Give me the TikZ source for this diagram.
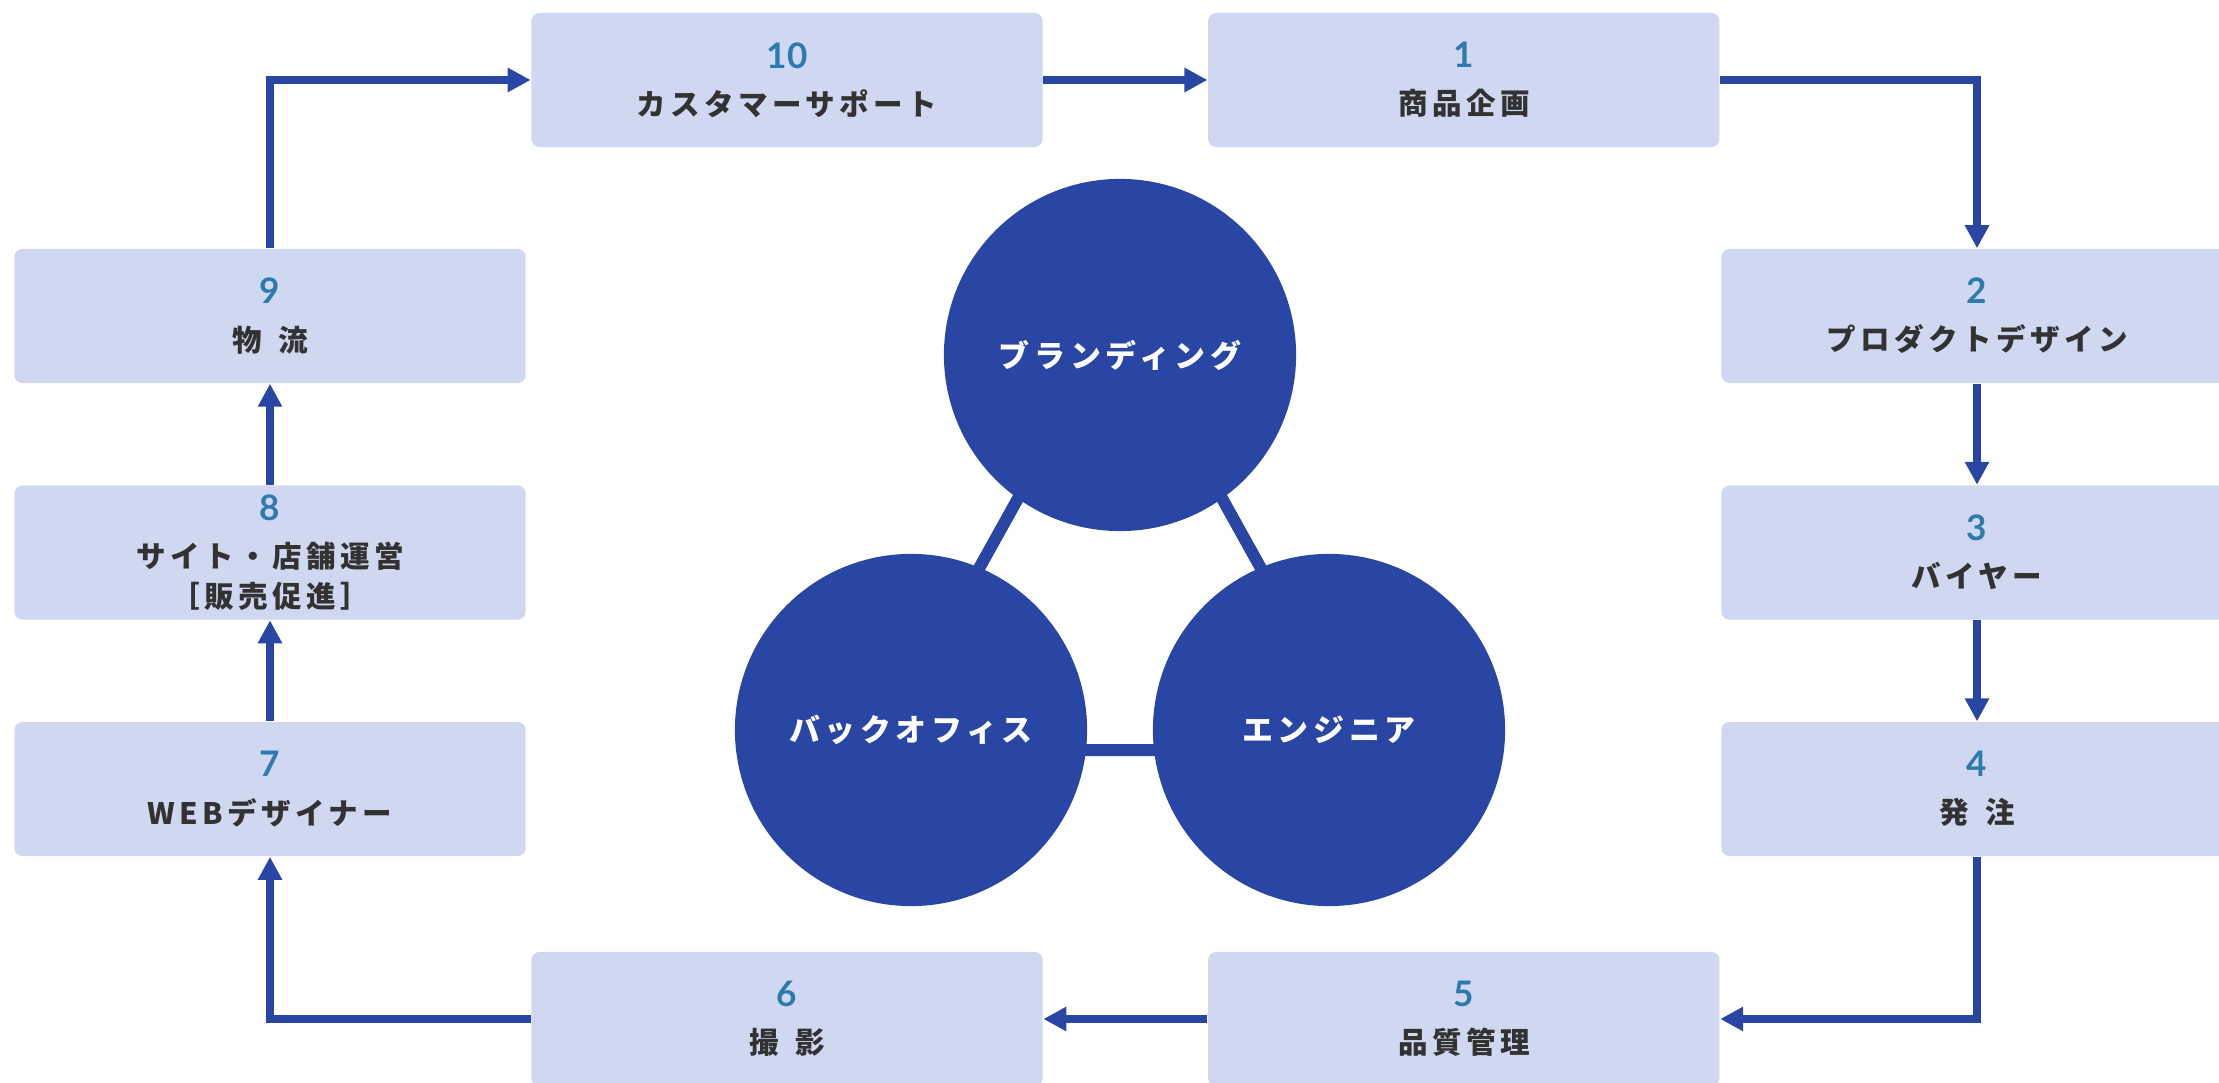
\documentclass[tikz,border=0pt]{standalone}
\usepackage{fontspec}
\setmainfont{Noto Sans CJK JP}
\newfontfamily\jpfont[LetterSpace=15]{Noto Sans CJK JP}
\newfontfamily\numfont{Lato}
\usepackage{xcolor}
\usetikzlibrary{arrows.meta, positioning, backgrounds}

\definecolor{boxbg}{RGB}{208,216,241}
\definecolor{navy}{RGB}{42,70,165}
\definecolor{numcol}{RGB}{43,122,176}
\definecolor{txt}{RGB}{50,50,50}

\newcommand{\stagenum}[1]{{\numfont\bfseries\fontsize{10}{11.4}\selectfont\color{numcol}#1}\\[2pt]}
\newcommand{\gap}{\kern0.55em}

\tikzset{
  stage/.style={fill=boxbg, rounded corners=0.08cm, minimum width=5.11cm,
    minimum height=1.34cm, inner sep=0pt, align=center, text=txt,
    font=\jpfont\bfseries\fontsize{8.4}{11.4}\selectfont},
  team/.style={circle, fill=navy, minimum size=3.52cm, inner sep=0pt,
    text=white, font=\jpfont\bfseries\fontsize{8.8}{10}\selectfont},
  flow/.style={navy, line width=0.08cm, line join=miter,
    -{Triangle[length=0.23cm,width=0.23cm]}},
  link/.style={navy, line width=0.12cm}
}

\begin{document}
\begin{tikzpicture}[x=0.01cm, y=-0.01cm]
\useasboundingbox (0,0) rectangle (2219,1083);

% top row
\node[stage] (s10) at (787,80) {\stagenum{10}カスタマーサポート};
\node[stage, right=1.64cm of s10] (s1) {\stagenum{1}商品企画};

% right column
\node[stage] (s2) at (1977,316) {\stagenum{2}プロダクトデザイン};
\node[stage, below=1.01cm of s2] (s3) {\stagenum{3}バイヤー};
\node[stage, below=1.01cm of s3] (s4) {\stagenum{4}発\gap 注};

% bottom row
\node[stage] (s6) at (787,1019) {\stagenum{6}撮\gap 影};
\node[stage, right=1.64cm of s6] (s5) {\stagenum{5}品質管理};

% left column
\node[stage] (s9) at (270,316) {\stagenum{9}物\gap 流};
\node[stage, below=1.01cm of s9] (s8) {\stagenum{8}サイト・店舗運営\\［販売促進］};
\node[stage, below=1.01cm of s8] (s7) {\stagenum{7}WEBデザイナー};

% teams
\node[team] (brand) at (1120,355) {ブランディング};
\node[team] (office) at (911,730) {バックオフィス};
\node[team] (engineer) at (1329,730) {エンジニア};

\begin{scope}[on background layer]
\draw[link] ([yshift=0.4cm]brand.center) -- ([xshift=-0.33cm,yshift=-0.2cm]office.center)
  -- ([xshift=0.33cm,yshift=-0.2cm]engineer.center) -- cycle;
\end{scope}

% flow
\draw[flow] (s10) -- (s1);
\draw[flow] (s1.east) -| (s2.north);
\draw[flow] (s2) -- (s3);
\draw[flow] (s3) -- (s4);
\draw[flow] (s4.south) |- (s5.east);
\draw[flow] (s5) -- (s6);
\draw[flow] (s6.west) -| (s7.south);
\draw[flow] (s7) -- (s8);
\draw[flow] (s8) -- (s9);
\draw[flow] (s9.north) |- (s10.west);

\end{tikzpicture}
\end{document}
